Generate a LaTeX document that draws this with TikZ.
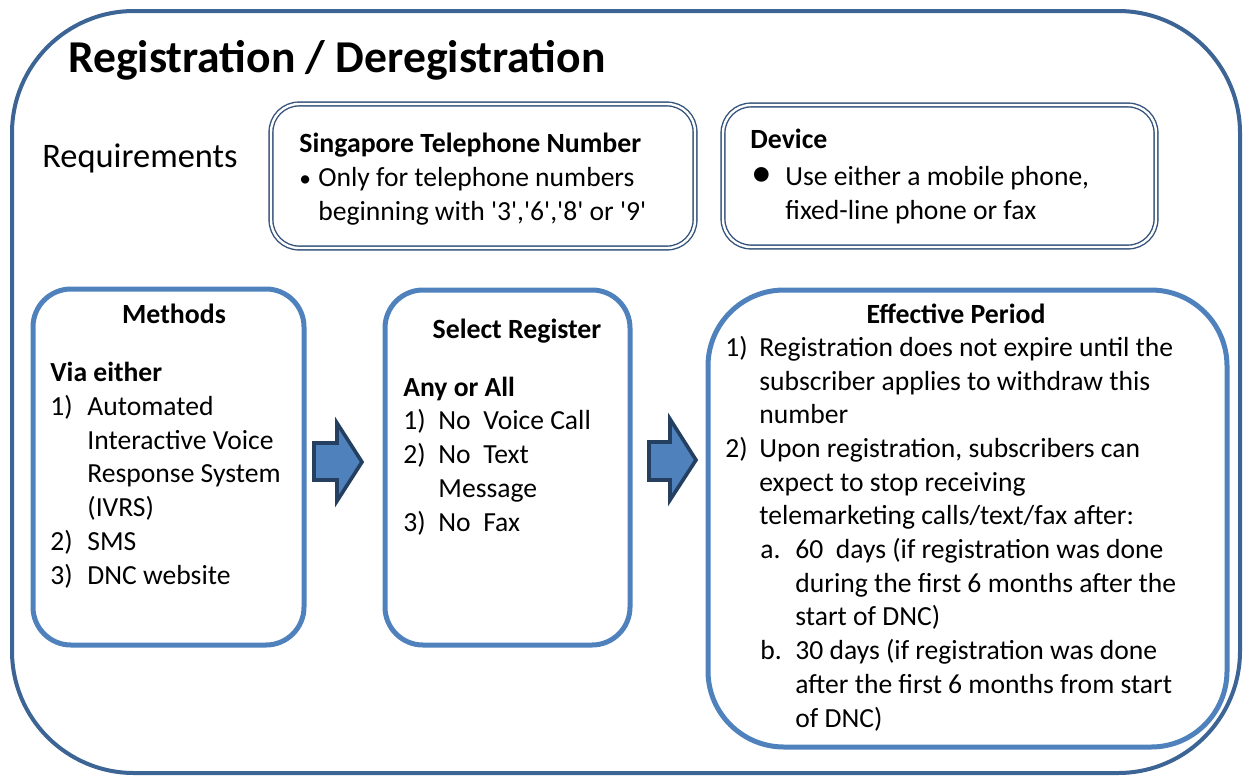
\documentclass[tikz,border=0pt]{standalone}
\usepackage{fontspec}
\setmainfont{Carlito}
\usepackage{xcolor}
\definecolor{frameblue}{HTML}{3C6494}
\definecolor{dblblue}{HTML}{34527A}
\definecolor{softblue}{HTML}{4F81BD}
\definecolor{arrowedge}{HTML}{243F60}
\newcommand\lab[2]{\makebox[#1][l]{#2}}
\newcommand\ind[1]{\hspace*{#1}}
\newcommand\sq{\textquotesingle}

\begin{document}
\begin{tikzpicture}[x=0.5pt,y=-0.5pt,
  outerframe/.style={draw=frameblue, line width=2pt, rounded corners=61pt},
  dblbox/.style={draw=dblblue, double=white, line width=0.7pt, double distance=1.2pt, rounded corners=14pt},
  bluebox/.style={draw=softblue, line width=2.5pt, rounded corners=19pt},
  blockarrow/.style={draw=arrowedge, fill=softblue, line width=1.8pt},
  txt/.style={anchor=base west, inner sep=0pt, align=left, font=\fontsize{13.8}{16.85}\selectfont},
  head/.style={anchor=base, inner sep=0pt, font=\fontsize{13.9}{16.85}\selectfont\bfseries}]
  \useasboundingbox (0,0) rectangle (1246,777);

  % frames
  \draw[outerframe] (12,11) rectangle (1240,773);
  \draw[dblbox] (271,104) rectangle (695,248);
  \draw[dblbox] (723,105) rectangle (1156,247);
  \draw[bluebox] (33,289) rectangle (304,645);
  \draw[bluebox] (385,290) rectangle (630,645);
  \draw[bluebox, rounded corners=38pt] (708,290) rectangle (1227,747);

  % arrows
  \draw[blockarrow] (314,443) -- (337,443) -- (337,423) -- (362,462) -- (337,501) -- (337,480) -- (314,480) -- cycle;
  \draw[blockarrow] (649,442) -- (670,442) -- (670,419) -- (696,460) -- (670,500) -- (670,480) -- (649,480) -- cycle;

  % title and requirements (text nodes sit on their last baseline)
  \node[anchor=base west, inner sep=0pt, font=\fontsize{22.8}{27}\selectfont\bfseries] (title) at (68,72) {Registration / Deregistration};
  \node[anchor=base west, inner sep=0pt, font=\fontsize{17.2}{20}\selectfont] (req) at (42,167) {Requirements};

  \node[txt, font=\fontsize{13.9}{16.85}\selectfont\bfseries] (sghead) at (299,152) {Singapore Telephone Number};
  \node[txt] (sgtxt) at (299,220) {\lab{9.5pt}{\scalebox{0.85}{•}}Only for telephone numbers\\
    \ind{9.5pt}beginning with \sq3\sq,\sq6\sq,\sq8\sq{} or \sq9\sq};

  \node[txt, font=\fontsize{13.9}{16.85}\selectfont\bfseries] (dvhead) at (750,148) {Device};
  \node[txt] (dvtxt) at (751,219) {\lab{17pt}{\raisebox{-0.5pt}{\scalebox{1.5}{•}}}Use either a mobile phone,\\
    \ind{17pt}fixed-line phone or fax};

  % methods
  \node[head] (methhead) at (174,323) {Methods};
  \node[txt] (methtxt) at (50,584) {\textbf{Via either}\\
    \lab{18.5pt}{1)}Automated\\
    \ind{18.5pt}Interactive Voice\\
    \ind{18.5pt}Response System\\
    \ind{18.5pt}(IVRS)\\
    \lab{18.5pt}{2)}SMS\\
    \lab{18.5pt}{3)}DNC website};

  % select register
  \node[head] (selhead) at (517,338) {Select Register};
  \node[txt] (seltxt) at (403,531) {\textbf{Any or All}\\
    \lab{17.5pt}{1)}No\ \ Voice Call\\
    \lab{17.5pt}{2)}No\ \ Text\\
    \ind{17.5pt}Message\\
    \lab{17.5pt}{3)}No\ \ Fax};

  % effective period
  \node[head] (effhead) at (956,323) {Effective Period};
  \node[txt] (efftxt) at (725,727) {\lab{17pt}{1)}Registration does not expire until the\\
    \ind{17pt}subscriber applies to withdraw this\\
    \ind{17pt}number\\
    \lab{17pt}{2)}Upon registration, subscribers can\\
    \ind{17pt}expect to stop receiving\\
    \ind{17pt}telemarketing calls/text/fax after:\\
    \ind{17.5pt}\lab{17.5pt}{a.}60\ \ days (if registration was done\\
    \ind{35pt}during the first 6 months after the\\
    \ind{35pt}start of DNC)\\
    \ind{17.5pt}\lab{17.5pt}{b.}30 days (if registration was done\\
    \ind{35pt}after the first 6 months from start\\
    \ind{35pt}of DNC)};
\end{tikzpicture}
\end{document}
